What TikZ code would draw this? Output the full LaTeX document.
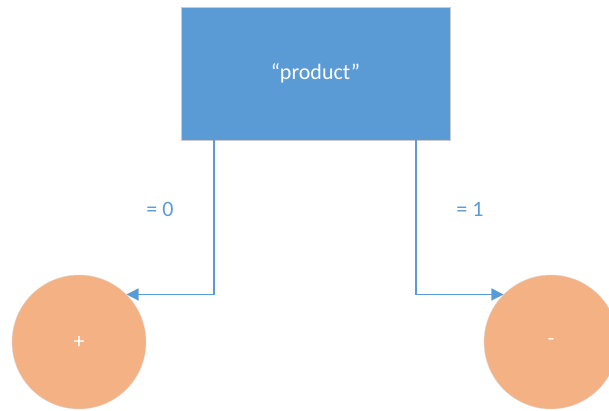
\documentclass[tikz,border=0pt]{standalone}
\usepackage{fontspec}
\setmainfont{Carlito}
\usetikzlibrary{arrows.meta}
\definecolor{boxblue}{HTML}{5B9BD5}
\definecolor{circorange}{HTML}{F4B183}
\tikzset{
    decision/.style={rectangle, fill=boxblue, draw=black!20, minimum width=269pt,
        minimum height=133pt, text=white, font=\fontsize{22}{26}\selectfont},
    leaf/.style={circle, fill=circorange, draw=black!15, minimum size=134pt,
        inner sep=0pt, text=white, font=\fontsize{22}{26}\selectfont},
    branch/.style={boxblue, line width=1.3pt, -{Triangle[length=12pt,width=12pt]}},
    edgelabel/.style={text=boxblue, font=\fontsize{22}{26}\selectfont}
}
\begin{document}
\begin{tikzpicture}[x=1pt,y=-1pt]
    \useasboundingbox (0,0) rectangle (609,411);
    \node[decision] (product) at (315.5,73.5) {“product”};
    \node[leaf] (plus) at (79,342) {+};
    \node[leaf] (minus) at (551,342) {-};
    \draw[branch] (product.south -| 214,0) |- (plus.45);
    \draw[branch] (product.south -| 416,0) |- (minus.135);
    \node[edgelabel] (zero) at (160,209) {= 0};
    \node[edgelabel] (one) at (470,209) {= 1};
\end{tikzpicture}
\end{document}
